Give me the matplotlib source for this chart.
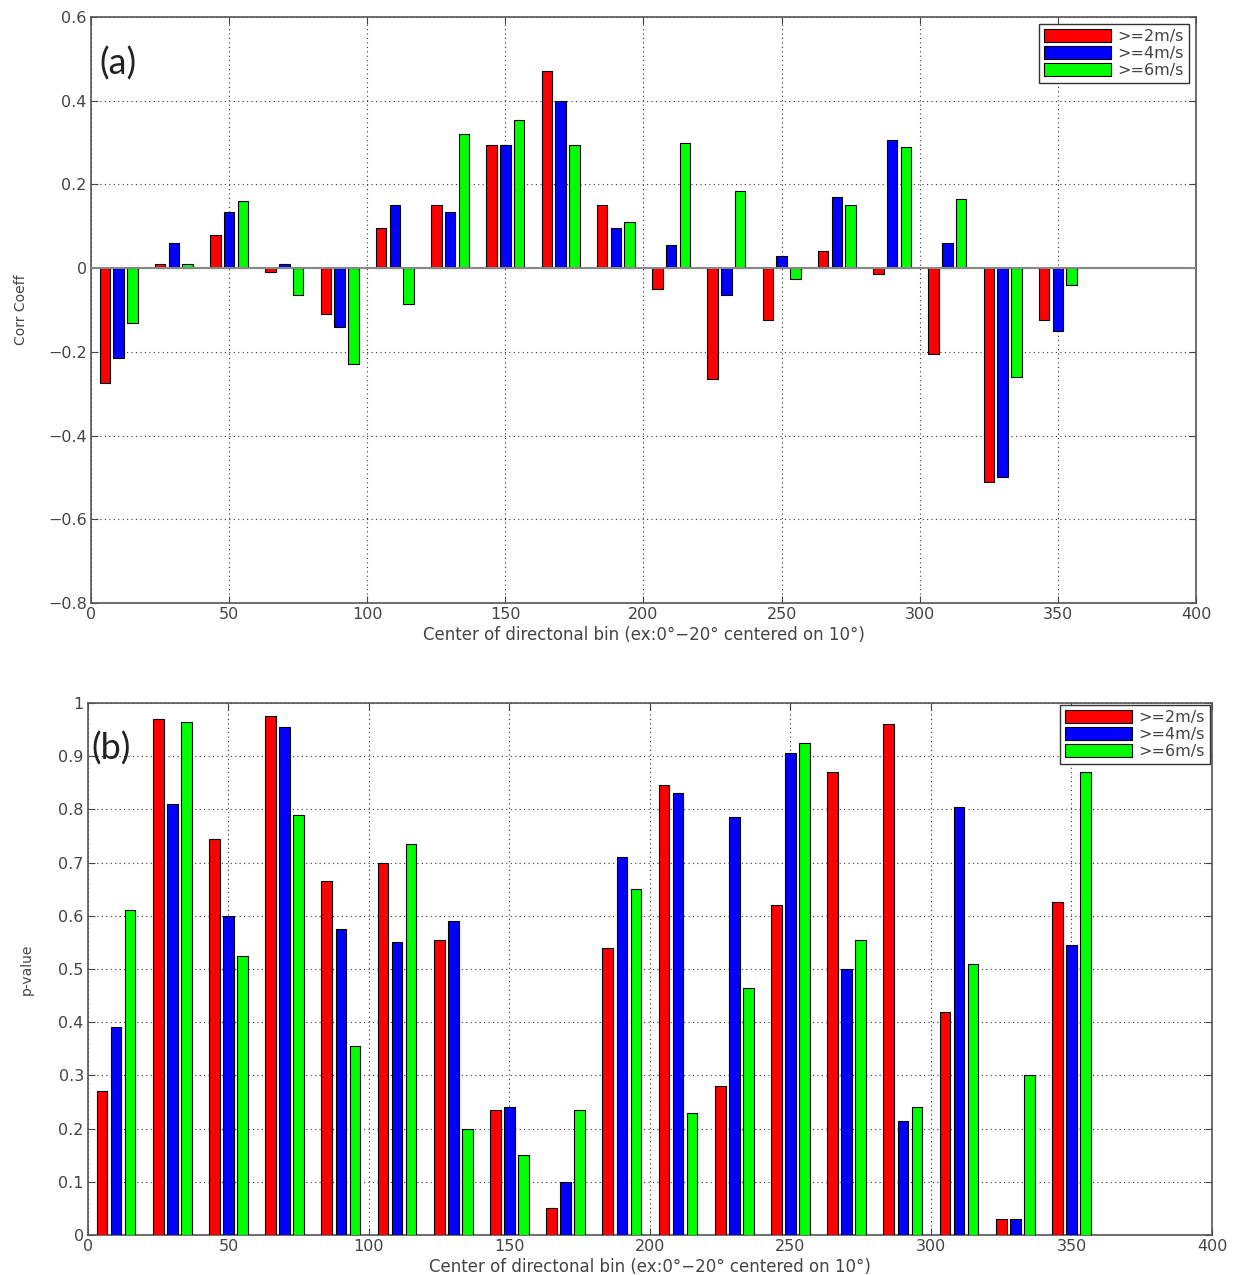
import numpy as np
import matplotlib.pyplot as plt

bin_centers = [10, 30, 50, 70, 90, 110, 130, 150, 170, 190, 210, 230, 250, 270, 290, 310, 330, 350]
labels = [">=2m/s", ">=4m/s", ">=6m/s"]
colors = ["#ff0000", "#0000ff", "#00ff00"]

# (a) correlation coefficient
corr_2 = [-0.275, 0.01, 0.08, -0.01, -0.11, 0.095, 0.15, 0.295, 0.47, 0.15,
          -0.05, -0.265, -0.125, 0.04, -0.015, -0.205, -0.51, -0.125]
corr_4 = [-0.215, 0.06, 0.135, 0.01, -0.14, 0.15, 0.135, 0.295, 0.40, 0.095,
          0.055, -0.065, 0.03, 0.17, 0.305, 0.06, -0.50, -0.15]
corr_6 = [-0.13, 0.01, 0.16, -0.065, -0.23, -0.085, 0.32, 0.355, 0.295, 0.11,
          0.30, 0.185, -0.025, 0.15, 0.29, 0.165, -0.26, -0.04]

# (b) p-value
p_2 = [0.27, 0.97, 0.745, 0.975, 0.665, 0.70, 0.555, 0.235, 0.05, 0.54,
       0.845, 0.28, 0.62, 0.87, 0.96, 0.42, 0.03, 0.625]
p_4 = [0.39, 0.81, 0.60, 0.955, 0.575, 0.55, 0.59, 0.24, 0.10, 0.71,
       0.83, 0.785, 0.905, 0.50, 0.215, 0.805, 0.03, 0.545]
p_6 = [0.61, 0.965, 0.525, 0.79, 0.355, 0.735, 0.20, 0.15, 0.235, 0.65,
       0.23, 0.465, 0.925, 0.555, 0.24, 0.51, 0.30, 0.87]

xlabel = "Center of directonal bin (ex:0°\u221220° centered on 10°)"
tick_color = "#444444"


def style_axes(ax, yticks, ylabels):
    ax.set_xlim(0, 400)
    ax.set_xticks(range(0, 401, 50))
    ax.set_yticks(yticks)
    ax.set_yticklabels(ylabels)
    ax.grid(True, linestyle=(0, (1, 3)), color="#333333", linewidth=0.8)
    ax.set_axisbelow(True)
    ax.tick_params(direction="in", right=True, top=True, labelsize=11.5,
                   colors=tick_color, length=5, pad=3)
    for s in ax.spines.values():
        s.set_color("#555555")
        s.set_linewidth(1.2)
    ax.set_xlabel(xlabel, fontsize=12, color=tick_color, labelpad=3)


def draw_bars(ax, series, leg_pad):
    x = np.array(bin_centers)
    for i, vals in enumerate(series):
        ax.bar(x + (i - 1) * 5, vals, width=3.8, color=colors[i],
               edgecolor="black", linewidth=0.8, label=labels[i], zorder=3)
    leg = ax.legend(loc="upper right", fontsize=11.5, handlelength=4.2,
                    handleheight=0.85, labelspacing=0.12, borderpad=0.3,
                    handletextpad=0.4, fancybox=False, framealpha=1,
                    edgecolor="#333333", borderaxespad=leg_pad)
    leg.set_zorder(5)
    for t in leg.get_texts():
        t.set_color(tick_color)


fig = plt.figure(figsize=(12.39, 12.75), dpi=100)

ax1 = fig.add_axes([0.0734, 0.5271, 0.8919, 0.4596])
draw_bars(ax1, [corr_2, corr_4, corr_6], 0.45)
ax1.axhline(0, color="#888888", linewidth=1.5, zorder=4)
ax1.set_ylim(-0.8, 0.6)
yt1 = [-0.8, -0.6, -0.4, -0.2, 0, 0.2, 0.4, 0.6]
style_axes(ax1, yt1, ["\u22120.8", "\u22120.6", "\u22120.4", "\u22120.2", "0", "0.2", "0.4", "0.6"])
ax1.set_ylabel("Corr Coeff", fontsize=10, color=tick_color, labelpad=14)
ax1.text(0.008, 0.92, "(a)", transform=ax1.transAxes, fontsize=26,
         family="Lato", color="#222222", va="center")

ax2 = fig.add_axes([0.0710, 0.0314, 0.9072, 0.4173])
draw_bars(ax2, [p_2, p_4, p_6], 0.15)
ax2.set_ylim(0, 1)
yt2 = [round(v * 0.1, 1) for v in range(11)]
style_axes(ax2, yt2, ["0", "0.1", "0.2", "0.3", "0.4", "0.5", "0.6", "0.7", "0.8", "0.9", "1"])
ax2.set_ylabel("p-value", fontsize=10, color=tick_color, labelpad=18)
ax2.text(0.003, 0.915, "(b)", transform=ax2.transAxes, fontsize=26,
         family="Lato", color="#222222", va="center")

fig.savefig("out.png", dpi=100)
